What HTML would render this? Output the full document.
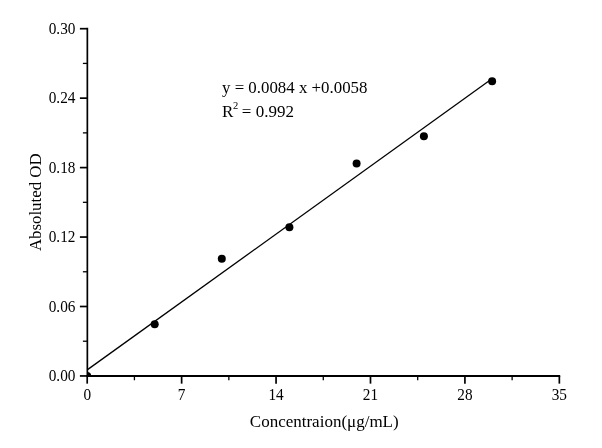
<!DOCTYPE html>
<html><head><meta charset="utf-8"><style>
html,body{margin:0;padding:0;background:#fff;}
svg{display:block;font-family:"Liberation Serif",serif;will-change:transform;}
</style></head><body>
<svg width="602" height="448" viewBox="0 0 602 448">
<rect width="602" height="448" fill="#fff"/>
<line x1="87.35" y1="27.85" x2="87.35" y2="375.95" stroke="#000" stroke-width="1.7"/>
<line x1="86.5" y1="375.95" x2="560.20" y2="375.95" stroke="#000" stroke-width="1.9"/>
<line x1="79.90" y1="375.95" x2="87.20" y2="375.95" stroke="#000" stroke-width="1.7"/>
<text transform="translate(75.4 380.95) scale(0.955 1)" text-anchor="end" font-size="16">0.00</text>
<line x1="79.90" y1="306.50" x2="87.20" y2="306.50" stroke="#000" stroke-width="1.7"/>
<text transform="translate(75.4 311.50) scale(0.955 1)" text-anchor="end" font-size="16">0.06</text>
<line x1="79.90" y1="237.05" x2="87.20" y2="237.05" stroke="#000" stroke-width="1.7"/>
<text transform="translate(75.4 242.05) scale(0.955 1)" text-anchor="end" font-size="16">0.12</text>
<line x1="79.90" y1="167.60" x2="87.20" y2="167.60" stroke="#000" stroke-width="1.7"/>
<text transform="translate(75.4 172.60) scale(0.955 1)" text-anchor="end" font-size="16">0.18</text>
<line x1="79.90" y1="98.15" x2="87.20" y2="98.15" stroke="#000" stroke-width="1.7"/>
<text transform="translate(75.4 103.15) scale(0.955 1)" text-anchor="end" font-size="16">0.24</text>
<line x1="79.90" y1="28.70" x2="87.20" y2="28.70" stroke="#000" stroke-width="1.7"/>
<text transform="translate(75.4 33.70) scale(0.955 1)" text-anchor="end" font-size="16">0.30</text>
<line x1="82.90" y1="341.22" x2="87.20" y2="341.22" stroke="#000" stroke-width="1.3"/>
<line x1="82.90" y1="271.77" x2="87.20" y2="271.77" stroke="#000" stroke-width="1.3"/>
<line x1="82.90" y1="202.32" x2="87.20" y2="202.32" stroke="#000" stroke-width="1.3"/>
<line x1="82.90" y1="132.88" x2="87.20" y2="132.88" stroke="#000" stroke-width="1.3"/>
<line x1="82.90" y1="63.42" x2="87.20" y2="63.42" stroke="#000" stroke-width="1.3"/>
<line x1="87.20" y1="375.95" x2="87.20" y2="383.65" stroke="#000" stroke-width="1.7"/>
<text transform="translate(87.20 399.6) scale(0.955 1)" text-anchor="middle" font-size="16">0</text>
<line x1="181.63" y1="375.95" x2="181.63" y2="383.65" stroke="#000" stroke-width="1.7"/>
<text transform="translate(181.63 399.6) scale(0.955 1)" text-anchor="middle" font-size="16">7</text>
<line x1="276.06" y1="375.95" x2="276.06" y2="383.65" stroke="#000" stroke-width="1.7"/>
<text transform="translate(276.06 399.6) scale(0.955 1)" text-anchor="middle" font-size="16">14</text>
<line x1="370.49" y1="375.95" x2="370.49" y2="383.65" stroke="#000" stroke-width="1.7"/>
<text transform="translate(370.49 399.6) scale(0.955 1)" text-anchor="middle" font-size="16">21</text>
<line x1="464.92" y1="375.95" x2="464.92" y2="383.65" stroke="#000" stroke-width="1.7"/>
<text transform="translate(464.92 399.6) scale(0.955 1)" text-anchor="middle" font-size="16">28</text>
<line x1="559.35" y1="375.95" x2="559.35" y2="383.65" stroke="#000" stroke-width="1.7"/>
<text transform="translate(559.35 399.6) scale(0.955 1)" text-anchor="middle" font-size="16">35</text>
<line x1="134.42" y1="375.95" x2="134.42" y2="380.25" stroke="#000" stroke-width="1.3"/>
<line x1="228.85" y1="375.95" x2="228.85" y2="380.25" stroke="#000" stroke-width="1.3"/>
<line x1="323.28" y1="375.95" x2="323.28" y2="380.25" stroke="#000" stroke-width="1.3"/>
<line x1="417.70" y1="375.95" x2="417.70" y2="380.25" stroke="#000" stroke-width="1.3"/>
<line x1="512.13" y1="375.95" x2="512.13" y2="380.25" stroke="#000" stroke-width="1.3"/>
<line x1="87.20" y1="369.9" x2="492" y2="78.8" stroke="#000" stroke-width="1.3"/>
<clipPath id="c"><rect x="87.20" y="0" width="600" height="375.95"/></clipPath>
<circle cx="87.20" cy="375.95" r="4" clip-path="url(#c)"/>
<circle cx="154.7" cy="324.2" r="4"/>
<circle cx="221.8" cy="258.8" r="4"/>
<circle cx="289.4" cy="227.2" r="4"/>
<circle cx="356.6" cy="163.5" r="4"/>
<circle cx="423.9" cy="136.3" r="4"/>
<circle cx="492.1" cy="81.3" r="4"/>
<text x="249.8" y="427" font-size="17">Concentraion(μg/mL)</text>
<text transform="translate(40.7 251.1) rotate(-90) scale(0.99 1.0)" font-size="17">Absoluted OD</text>
<text transform="translate(222 92.7) scale(0.992 1)" font-size="17">y = 0.0084 x +0.0058</text>
<text x="222" y="116.7" font-size="17">R<tspan dx="-0.4" dy="-8.0" font-size="10.5">2</tspan><tspan dx="-0.6" dy="8.0"> = 0.992</tspan></text>
</svg>
</body></html>
